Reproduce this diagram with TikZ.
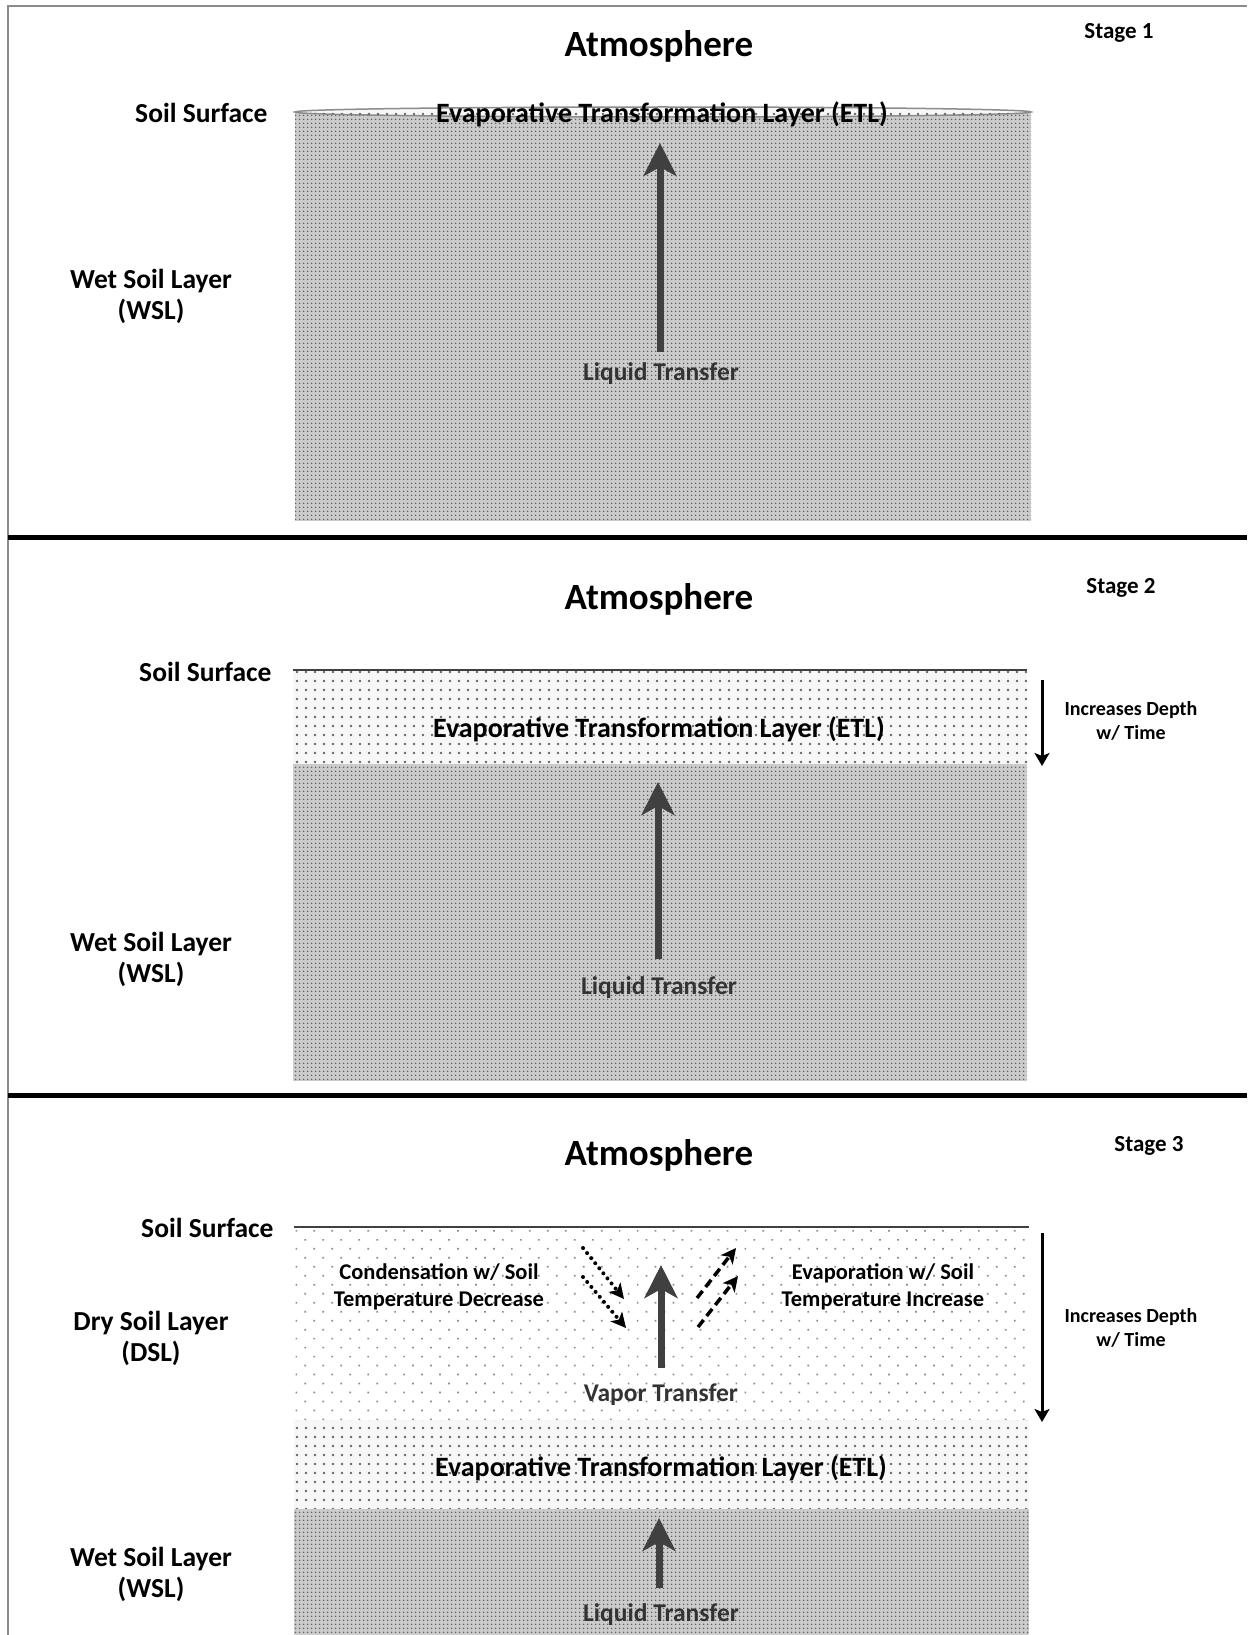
\documentclass[tikz,border=0pt]{standalone}
\usepackage{fontspec}
\setmainfont{Carlito}
\usetikzlibrary{patterns.meta,arrows.meta}
\tikzset{
  wslfill/.style={fill=black!20, postaction={pattern={Dots[distance=4pt,radius=1pt]},pattern color=black!62}},
  etlfill/.style={fill=black!3, postaction={pattern={Dots[distance=9pt,radius=1.3pt]},pattern color=black!60}},
  dslfill/.style={fill=white, postaction={pattern={Dots[distance=12.7pt,radius=1.2pt,angle=45]},pattern color=black!45}},
  title/.style={font=\fontsize{37}{40}\selectfont\bfseries},
  stagelbl/.style={font=\fontsize{23}{26}\selectfont\bfseries},
  sidelbl/.style={font=\fontsize{27.5}{31}\selectfont\bfseries, align=center},
  layerlbl/.style={font=\fontsize{28}{30}\selectfont\bfseries},
  xferlbl/.style={font=\fontsize{25.5}{29}\selectfont\bfseries, text=black!80},
  smalllbl/.style={font=\fontsize{20}{23.5}\selectfont\bfseries, align=center, inner sep=0pt},
  midlbl/.style={font=\fontsize{22.5}{27}\selectfont\bfseries, align=center, inner sep=0pt},
  bigarrow/.style={draw=black!75, line width=7pt, -{Stealth[length=33pt,width=33pt,inset=9pt]}},
  deptharrow/.style={draw=black, line width=3pt, -{Stealth[length=13pt,width=15pt,inset=3pt]}},
  dotarrow/.style={draw=black, line width=4pt, dash pattern=on 0pt off 6.5pt, line cap=round, -{Stealth[length=15pt,width=15pt,inset=4pt]}},
  dasharrow/.style={draw=black, line width=3.5pt, dash pattern=on 9pt off 5pt, -{Stealth[length=15pt,width=15pt,inset=4pt]}},
  surface/.style={draw=black!75, line width=2.5pt},
  frameline/.style={draw=black!45, line width=2pt},
  sepline/.style={draw=black, line width=5pt},
}
\begin{document}
\begin{tikzpicture}[x=1pt,y=-1pt]
\useasboundingbox (0,0) rectangle (1247,1635);
\fill[white] (0,0) rectangle (1247,1635);

% frame and separators
\draw[frameline] (8,1635) -- (8,6) -- (1247,6);
\coordinate (sepA1) at (8,537);  \coordinate (sepA2) at (1247,537);
\coordinate (sepB1) at (8,1095); \coordinate (sepB2) at (1247,1095);
\draw[sepline] (sepA1) -- (sepA2);
\draw[sepline] (sepB1) -- (sepB2);

%================ Stage 1 ================
\path[wslfill] (295,113) rectangle (1031,521);
\path[etlfill, draw=black!45, line width=1.5pt] (663,112) ellipse [x radius=368, y radius=5];
\node[title] (atm1) at (659,46) {Atmosphere};
\node[stagelbl] (st1) at (1119,33) {Stage 1};
\node[sidelbl, anchor=east] (ss1) at (271,113) {Soil Surface};
\node[layerlbl] (etl1) at (662,114) {Evaporative Transformation Layer (ETL)};
\node[sidelbl] (wsl1) at (151,296) {Wet Soil Layer\\(WSL)};
\node[xferlbl] (lt1) at (661,374) {Liquid Transfer};
\coordinate (a1t) at (660,352); \coordinate (a1h) at (660,143);
\draw[bigarrow] (a1t) -- (a1h);

%================ Stage 2 ================
\path[etlfill] (293,671) rectangle (1027,764);
\path[wslfill] (293,764) rectangle (1027,1081);
\coordinate (s2l) at (293,670); \coordinate (s2r) at (1027,670);
\draw[surface] (s2l) -- (s2r);
\node[title] (atm2) at (659,599) {Atmosphere};
\node[stagelbl] (st2) at (1121,588) {Stage 2};
\node[sidelbl, anchor=east] (ss2) at (275,672) {Soil Surface};
\node[layerlbl] (etl2) at (659,729) {Evaporative Transformation Layer (ETL)};
\node[sidelbl] (wsl2) at (151,959) {Wet Soil Layer\\(WSL)};
\node[xferlbl] (lt2) at (659,988) {Liquid Transfer};
\coordinate (a2t) at (658,959); \coordinate (a2h) at (658,782);
\draw[bigarrow] (a2t) -- (a2h);
\coordinate (d2t) at (1042,680); \coordinate (d2h) at (1042,766);
\draw[deptharrow] (d2t) -- (d2h);
\node[smalllbl] (inc2) at (1131,721) {Increases Depth\\w/ Time};

%================ Stage 3 ================
\path[dslfill] (294,1229) rectangle (1029,1420);
\path[etlfill] (294,1420) rectangle (1029,1509);
\path[wslfill] (294,1509) rectangle (1029,1635);
\coordinate (s3l) at (294,1227); \coordinate (s3r) at (1029,1227);
\draw[surface] (s3l) -- (s3r);
\node[title] (atm3) at (659,1155) {Atmosphere};
\node[stagelbl] (st3) at (1149,1146) {Stage 3};
\node[sidelbl, anchor=east] (ss3) at (277,1228) {Soil Surface};
\node[sidelbl] (dsl3) at (151,1338) {Dry Soil Layer\\(DSL)};
\node[sidelbl] (wsl3) at (151,1574) {Wet Soil Layer\\(WSL)};
\node[midlbl] (cond) at (439,1287) {Condensation w/ Soil\\Temperature Decrease};
\node[midlbl] (evap) at (883,1287) {Evaporation w/ Soil\\Temperature Increase};
\node[xferlbl] (vt3) at (661,1395) {Vapor Transfer};
\node[layerlbl] (etl3) at (661,1468) {Evaporative Transformation Layer (ETL)};
\node[xferlbl] (lt3) at (661,1615) {Liquid Transfer};
\coordinate (v3t) at (661,1368); \coordinate (v3h) at (661,1265);
\draw[bigarrow] (v3t) -- (v3h);
\coordinate (a3t) at (659,1588); \coordinate (a3h) at (659,1518);
\draw[bigarrow] (a3t) -- (a3h);
\coordinate (c1t) at (583,1248); \coordinate (c1h) at (624,1299);
\coordinate (c2t) at (583,1277); \coordinate (c2h) at (626,1328);
\draw[dotarrow] (c1t) -- (c1h);
\draw[dotarrow] (c2t) -- (c2h);
\coordinate (e1t) at (697,1298); \coordinate (e1h) at (736,1248);
\coordinate (e2t) at (698,1327); \coordinate (e2h) at (738,1276);
\draw[dasharrow] (e1t) -- (e1h);
\draw[dasharrow] (e2t) -- (e2h);
\coordinate (d3t) at (1042,1233); \coordinate (d3h) at (1042,1422);
\draw[deptharrow] (d3t) -- (d3h);
\node[smalllbl] (inc3) at (1131,1328) {Increases Depth\\w/ Time};
\end{tikzpicture}
\end{document}
